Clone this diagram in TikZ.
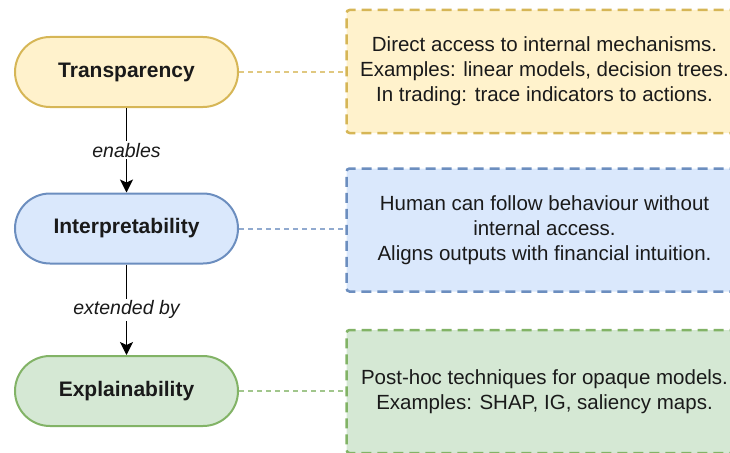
\documentclass[tikz,border=0pt]{standalone}
\usepackage{fontspec}
\setmainfont{Liberation Sans}
\usetikzlibrary{arrows.meta}
\definecolor{yfill}{HTML}{FFF2CC}
\definecolor{ydraw}{HTML}{D6B656}
\definecolor{bfill}{HTML}{DAE8FC}
\definecolor{bdraw}{HTML}{6C8EBF}
\definecolor{gfill}{HTML}{D5E8D4}
\definecolor{gdraw}{HTML}{82B366}
\definecolor{ink}{HTML}{1A1A1A}
\begin{document}
\begin{tikzpicture}[x=1pt, y=-1pt,
  stage/.style={draw, line width=2pt, rounded corners=35pt, minimum width=223pt,
    minimum height=70pt, text=ink, font=\fontsize{21}{25}\selectfont\bfseries},
  note/.style={draw, dash pattern=on 10pt off 6pt, line width=2.5pt, rounded corners=3pt,
    minimum width=396pt, minimum height=123pt, align=center, text=ink,
    font=\fontsize{20.5}{25}\selectfont},
  flow/.style={-{Stealth[length=13pt,width=13pt,inset=3pt]}, line width=1.3pt},
  lbl/.style={fill=white, text=ink, inner sep=2pt, font=\fontsize{19.5}{22}\selectfont\itshape},
  tie/.style={dash pattern=on 5pt off 4pt, line width=2pt, draw opacity=0.75}]
\useasboundingbox (0,0) rectangle (730,452);
\clip (0,0) rectangle (730,452);
%%%%%%%%%
\node [stage, fill=yfill, draw=ydraw] (trans) at (126.5,72) {Transparency};
\node [stage, fill=bfill, draw=bdraw] (interp) at (126.5,228.5) {Interpretability};
\node [stage, fill=gfill, draw=gdraw] (expl) at (126.5,391) {Explainability};
%%%%%%%%%
\node [note, fill=yfill, draw=ydraw] (transnote) at (544.5,71.5)
  {Direct access to internal mechanisms.\\Examples: linear models, decision trees.\\In trading: trace indicators to actions.};
\node [note, fill=bfill, draw=bdraw] (interpnote) at (544.5,230)
  {Human can follow behaviour without\\internal access.\\Aligns outputs with financial intuition.};
\node [note, fill=gfill, draw=gdraw] (explnote) at (544.5,391.5)
  {Post-hoc techniques for opaque models.\\Examples: SHAP, IG, saliency maps.};
%%%%%%%%%
\draw [flow] (trans) -- node [lbl] {enables} (interp);
\draw [flow] (interp) -- node [lbl] {extended by} (expl);
\draw [tie, ydraw] (trans.east) -- (transnote.west |- trans.east);
\draw [tie, bdraw] (interp.east) -- (interpnote.west |- interp.east);
\draw [tie, gdraw] (expl.east) -- (explnote.west |- expl.east);
\end{tikzpicture}
\end{document}
